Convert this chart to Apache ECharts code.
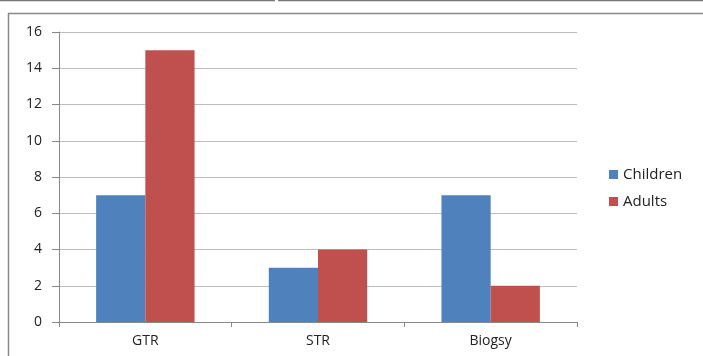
<!DOCTYPE html>
<html>
<head>
<meta charset="utf-8">
<script src="https://cdn.jsdelivr.net/npm/echarts@6/dist/echarts.min.js"></script>
<style>
  html, body { margin: 0; padding: 0; background: #fff; }
  #chart { width: 703px; height: 356px; }
</style>
</head>
<body>
<div id="chart"></div>
<script>
const categories = ['GTR', 'STR', 'Biogsy'];
const children = [7, 3, 7];
const adults = [15, 4, 2];
const yTicks = [0, 2, 4, 6, 8, 10, 12, 14, 16];

const chart = echarts.init(document.getElementById('chart'));
const font = '"Open Sans", "Liberation Sans", sans-serif';

chart.setOption({
  animation: false,
  backgroundColor: '#fff',
  graphic: [
    // frame pieces from the screenshot
    { type: 'line', shape: { x1: 0, y1: 0.5, x2: 275, y2: 0.5 }, style: { stroke: '#777', lineWidth: 1.5 } },
    { type: 'line', shape: { x1: 278, y1: 0.5, x2: 703, y2: 0.5 }, style: { stroke: '#777', lineWidth: 1.5 } },
    { type: 'rect', shape: { x: 8.5, y: 13.5, width: 720, height: 360 }, style: { fill: 'none', stroke: '#888', lineWidth: 1.5 } }
  ],
  grid: { left: 59, right: 126, top: 32, bottom: 34, containLabel: false },
  legend: {
    orient: 'vertical',
    left: 604,
    top: 162,
    itemWidth: 9,
    itemHeight: 9,
    itemGap: 12,
    icon: 'rect',
    textStyle: { fontFamily: font, fontSize: 15, color: '#222' },
    data: ['Children', 'Adults']
  },
  xAxis: {
    type: 'category',
    data: categories,
    axisLine: { lineStyle: { color: '#888' } },
    axisTick: { show: true, length: 5, lineStyle: { color: '#888' } },
    axisLabel: { fontFamily: font, fontSize: 14, color: '#222', margin: 12 }
  },
  yAxis: {
    type: 'value',
    min: yTicks[0],
    max: yTicks[yTicks.length - 1],
    interval: 2,
    axisLine: { show: true, lineStyle: { color: '#888' } },
    axisTick: { show: true, length: 7, lineStyle: { color: '#888' } },
    splitLine: { lineStyle: { color: '#bdbdbd' } },
    axisLabel: { fontFamily: font, fontSize: 14, color: '#222', margin: 17 }
  },
  series: [
    { name: 'Children', type: 'bar', data: children, itemStyle: { color: '#4f81bd' }, barGap: '0%', barCategoryGap: '43%' },
    { name: 'Adults', type: 'bar', data: adults, itemStyle: { color: '#c0504d' }, barGap: '0%', barCategoryGap: '43%' }
  ]
});
</script>
</body>
</html>
